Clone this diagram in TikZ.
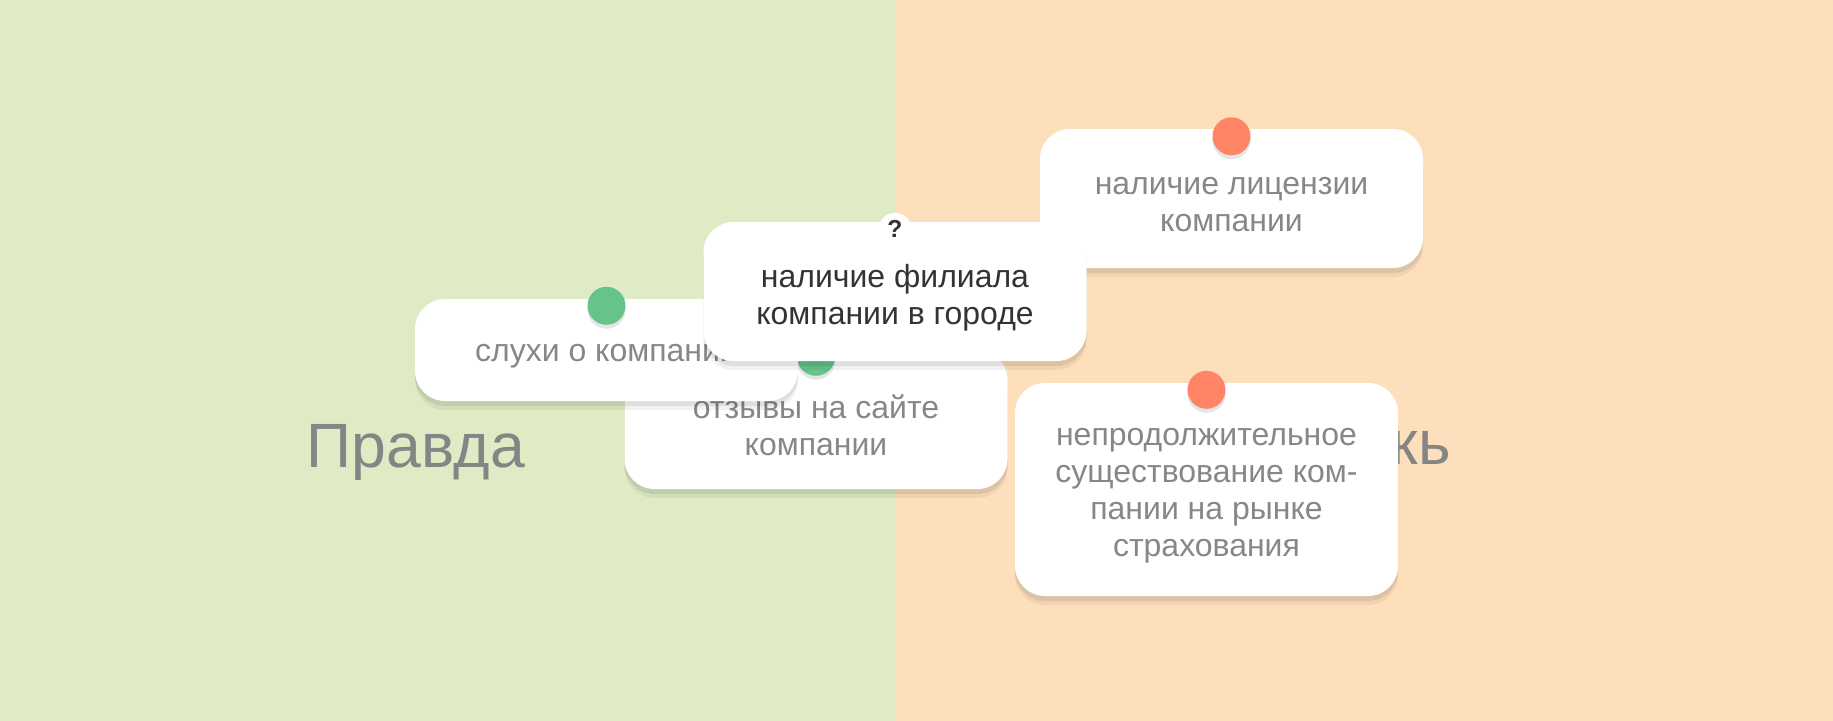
\documentclass[tikz,border=0pt]{standalone}
\usepackage{fontspec}
\setmainfont{Liberation Sans}
\usepackage{xcolor}
\usetikzlibrary{positioning}

\definecolor{greenbg}{HTML}{DFEBC4}
\definecolor{orangebg}{HTML}{FDDFBB}
\definecolor{labelgray}{HTML}{858585}
\definecolor{cardgray}{HTML}{878787}
\definecolor{darktext}{HTML}{333333}
\definecolor{pingreen}{HTML}{66C38A}
\definecolor{pinorange}{HTML}{FF8566}

\begin{document}
\begin{tikzpicture}[x=0.1mm,y=-0.1mm]

\tikzset{card/.style={
  rectangle,
  rounded corners=3mm,
  inner sep=0pt,
  fill=white,
  minimum width=38.3mm,
  preaction={fill=black, opacity=0.05, transform canvas={yshift=-0.9mm}},
  preaction={fill=black, opacity=0.08, transform canvas={yshift=-0.5mm}}
  },
  cardtext/.style={
  inner sep=0pt,
  align=center,
  text=cardgray,
  font=\fontsize{9.1}{10.5}\selectfont
  },
  pin/.style={
  circle, inner sep=0pt, minimum size=3.8mm,
  preaction={fill=black, opacity=0.10, transform canvas={yshift=-0.4mm}}
  },
  side/.style={inner sep=0pt, text=labelgray, font=\fontsize{17.8}{20}\selectfont}}

% background halves
\fill[greenbg] (0,0) rectangle (896,721);
\fill[orangebg] (896,0) rectangle (1833,721);

\node[side, anchor=base west] (pravda) at (306,467) {Правда};
\node[side, anchor=base east] (lozh) at (1452,464) {Ложь};

\node[card, minimum height=13.9mm] (otzyvy) at (816,419.5) {};
\node[cardtext] (otzyvytxt) at ([yshift=-0.6mm]otzyvy.center) {отзывы на сайте\\компании};
\node[pin, fill=pingreen] (otzyvypin) at ([yshift=-0.75mm]otzyvy.north) {};

\node[card, minimum height=10.2mm] (slukhi) at (606.5,350) {};
\node[cardtext] (slukhitxt) at ([yshift=-0.6mm]slukhi.center) {слухи о компании};
\node[pin, fill=pingreen] (slukhipin) at ([yshift=-0.75mm]slukhi.north) {};

\node[card, minimum height=13.9mm] (licenz) at (1231.5,198.5) {};
\node[cardtext] (licenztxt) at ([yshift=-0.6mm]licenz.center) {наличие лицензии\\компании};
\node[pin, fill=pinorange] (licenzpin) at ([yshift=-0.8mm]licenz.north) {};

\node[card, minimum height=21.3mm] (nedolgo) at (1206.5,489.5) {};
\node[cardtext] (nedolgotxt) at ([yshift=-0.6mm]nedolgo.center) {непродолжительное\\существование ком-\\пании на рынке\\страхования};
\node[pin, fill=pinorange] (nedolgopin) at ([yshift=-0.75mm]nedolgo.north) {};

%% card being dragged
\node[card, minimum height=13.9mm] (filial) at (895,291.5) {};
\node[cardtext, text=darktext] (filialtxt) at ([yshift=-0.6mm]filial.center) {наличие филиала\\компании в городе};
\node[circle, fill=white, inner sep=0pt, minimum size=3.3mm, text=darktext,
  font=\fontsize{7}{8}\selectfont\bfseries] (vopros) at ([yshift=-0.8mm]filial.north) {?};

\end{tikzpicture}
\end{document}
